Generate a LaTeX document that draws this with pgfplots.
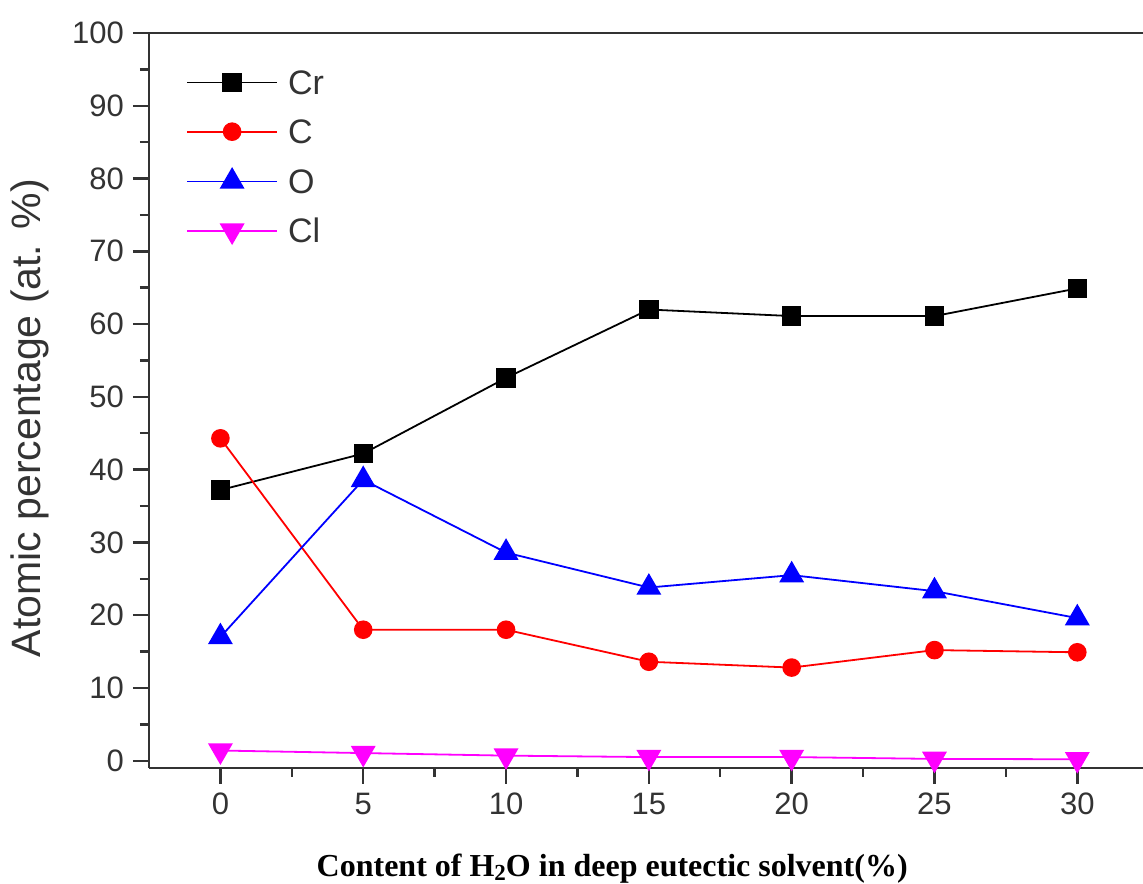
\documentclass[border=0pt]{standalone}
\usepackage{pgfplots}
\pgfplotsset{compat=1.18}
\usepackage{fontspec}
\setmainfont{Liberation Sans}
\newfontfamily\serifbold{Liberation Serif}

\definecolor{axisgray}{HTML}{333333}
\definecolor{crblack}{HTML}{000000}
\definecolor{cred}{HTML}{FF0000}
\definecolor{oblue}{HTML}{0000FF}
\definecolor{clmag}{HTML}{FF00FF}

% Atomic percentages vs. water content
\pgfplotstableread{
x   Cr    C     O     Cl
0   37.2  44.3  17.0  1.4
5   42.2  18.0  38.6  1.05
10  52.6  18.0  28.6  0.7
15  62.0  13.6  23.8  0.5
20  61.1  12.8  25.5  0.5
25  61.1  15.2  23.3  0.25
30  64.9  14.9  19.6  0.2
}\datatable

\begin{document}
\begin{tikzpicture}
\begin{axis}[
  scale only axis,
  width=497pt, height=367.5pt,
  xmin=-2.5, xmax=32.3,
  ymin=-1, ymax=100,
  xtick={0,5,...,30},
  ytick={0,10,...,100},
  minor x tick num=1,
  minor y tick num=1,
  axis x line*=bottom,
  axis y line*=left,
  axis line style={-, line width=1.3pt, color=axisgray},
  tick align=outside,
  major tick length=8pt,
  minor tick length=4.5pt,
  every tick/.style={line width=1.2pt, color=axisgray},
  /pgf/number format/assume math mode=true,
  tick label style={font=\fontsize{15.5}{18}\selectfont, text=axisgray},
  xticklabel style={yshift=-1pt},
  yticklabel style={xshift=-1pt},
  ylabel={Atomic percentage (at. \%)},
  ylabel style={at={(axis description cs:-0.1197,0.476)}, anchor=center,
    font=\fontsize{20.5}{24}\selectfont, text=axisgray},
  xlabel={\serifbold\bfseries Content of H\raisebox{-0.25ex}{\fontsize{11.5}{12}\selectfont 2}O in deep eutectic solvent(\%)},
  xlabel style={at={(axis description cs:0.466,0)}, anchor=north, inner sep=0pt,
    yshift=-43pt, font=\fontsize{16}{19}\selectfont},
  legend cell align=left,
  legend style={at={(axis description cs:0.031,0.955)}, anchor=north west,
    draw=none, fill=none, row sep=12.6pt,
    font=\fontsize{17}{20}\selectfont,
    nodes={inner sep=0pt, text height=12pt, text depth=0pt, text=axisgray}},
  legend image code/.code={
    \draw[mark repeat=2, mark phase=2] plot coordinates {(0pt,0pt) (22.5pt,0pt) (45pt,0pt)};
    \path (50pt,0pt);
  },
  clip=false,
]
\addplot[crblack, line width=0.9pt, mark=square*, mark size=4.4pt,
  mark options={solid, fill=crblack}] table[x=x, y=Cr] {\datatable};
\addlegendentry{Cr}
\addplot[cred, line width=0.9pt, mark=*, mark size=4.2pt,
  mark options={solid, fill=cred}] table[x=x, y=C] {\datatable};
\addlegendentry{C}
\addplot[oblue, line width=0.9pt, mark=triangle*, mark size=6.3pt,
  mark options={solid, fill=oblue}] table[x=x, y=O] {\datatable};
\addlegendentry{O}
\addplot[clmag, line width=0.9pt, mark=triangle*, mark size=6.3pt,
  mark options={solid, fill=clmag, rotate=180}] table[x=x, y=Cl] {\datatable};
\addlegendentry{Cl}
% top frame line
\draw[line width=1.3pt, color=axisgray] (rel axis cs:0,1) -- (rel axis cs:1,1);
\end{axis}
\pgfresetboundingbox
\path[use as bounding box]
  ([shift={(-74.5pt,-58pt)}]current axis.south west)
  rectangle ([shift={(0pt,16.5pt)}]current axis.north east);
\end{tikzpicture}
\end{document}
